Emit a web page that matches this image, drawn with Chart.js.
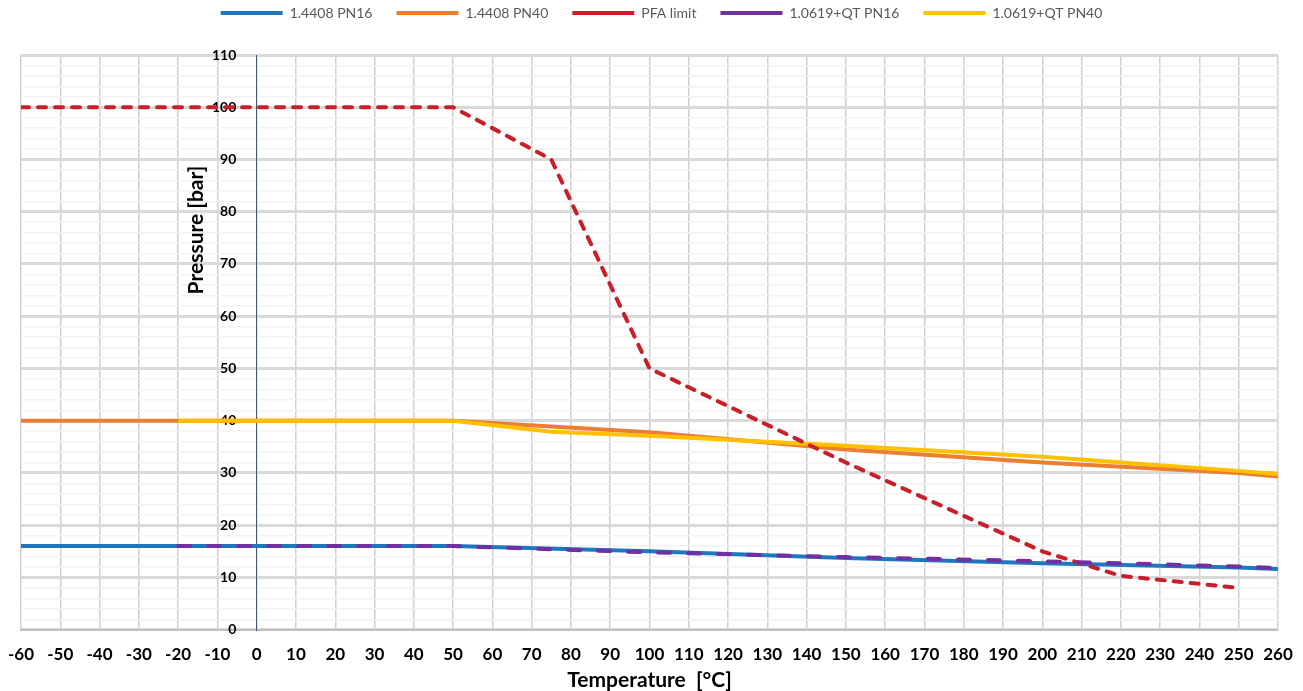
<!DOCTYPE html>
<html>
<head>
<meta charset="utf-8">
<script src="https://cdn.jsdelivr.net/npm/chart.js@4.4.1/dist/chart.umd.min.js"></script>
<style>
  body { margin: 0; background: #fff; }
  #wrap { width: 1303px; height: 691px; }
</style>
</head>
<body>
<div id="wrap"><canvas id="pressureChart" width="1303" height="691"></canvas></div>
<script>
// temperatures (°C) and pressures (bar)
const temp14408PN16 = [-60, 50, 100, 150, 200, 250, 260];
const pres14408PN16 = [16, 16, 15.0, 13.7, 12.7, 11.9, 11.6];

const temp14408PN40 = [-60, 50, 100, 150, 200, 250, 260];
const pres14408PN40 = [40, 40, 37.8, 34.5, 32.0, 30.0, 29.3];

const tempPFA = [-60, 50, 75, 100, 150, 200, 220, 250];
const presPFA = [100, 100, 90, 50, 32, 15, 10.3, 8.0];

const temp10619PN16 = [-20, 50, 100, 150, 200, 250, 260];
const pres10619PN16 = [16, 16, 14.8, 13.9, 13.1, 12.1, 11.8];

const temp10619PN40 = [-20, 50, 75, 100, 150, 200, 250, 260];
const pres10619PN40 = [40, 40, 37.9, 37.1, 35.2, 33.1, 30.4, 29.8];

const xMin = -60, xMax = 260, xStep = 10;
const yMin = 0, yMax = 110, yStep = 2;

function toPoints(xs, ys) {
    return xs.map((x, i) => ({ x: x, y: ys[i] }));
}

// extra room between legend and plot, legend nudged right a bit
const legendTweak = {
    id: 'legendTweak',
    beforeInit(chart) {
        const fit = chart.legend.fit;
        chart.legend.fit = function () {
            fit.call(this);
            this.height += 25;
        };
    },
    afterLayout(chart) {
        chart.legend.left += 12;
        chart.legend.right += 12;
    }
};

const axisTitles = {
    id: 'axisTitles',
    afterDraw(chart) {
        const ctx = chart.ctx;
        const area = chart.chartArea;
        ctx.save();
        ctx.font = 'bold 21px Lato';
        ctx.fillStyle = '#000';
        ctx.textAlign = 'center';
        ctx.textBaseline = 'middle';
        ctx.fillText('Temperature  [°C]', (area.left + area.right) / 2, area.bottom + 51);
        ctx.translate(chart.scales.x.getPixelForValue(0) - 60, chart.scales.y.getPixelForValue(76.5));
        ctx.rotate(-Math.PI / 2);
        ctx.fillText('Pressure [bar]', 0, 0);
        ctx.restore();
    }
};

new Chart(document.getElementById('pressureChart'), {
    type: 'line',
    data: {
        datasets: [
            {
                label: '1.4408 PN16',
                data: toPoints(temp14408PN16, pres14408PN16),
                borderColor: '#1f77c0',
                backgroundColor: '#1f77c0',
                borderWidth: 4,
                order: 5
            },
            {
                label: '1.4408 PN40',
                data: toPoints(temp14408PN40, pres14408PN40),
                borderColor: '#ed7d31',
                backgroundColor: '#ed7d31',
                borderWidth: 4,
                order: 4
            },
            {
                label: 'PFA limit',
                data: toPoints(tempPFA, presPFA),
                borderColor: '#c8202a',
                backgroundColor: '#c8202a',
                borderWidth: 4,
                borderDash: [8, 9],
                borderCapStyle: 'round',
                order: 2
            },
            {
                label: '1.0619+QT PN16',
                data: toPoints(temp10619PN16, pres10619PN16),
                borderColor: '#7030a0',
                backgroundColor: '#7030a0',
                borderWidth: 4,
                borderDash: [12, 18],
                borderCapStyle: 'round',
                order: 1
            },
            {
                label: '1.0619+QT PN40',
                data: toPoints(temp10619PN40, pres10619PN40),
                borderColor: '#ffc000',
                backgroundColor: '#ffc000',
                borderWidth: 4,
                order: 3
            }
        ]
    },
    options: {
        responsive: false,
        animation: false,
        devicePixelRatio: 1,
        layout: { padding: { left: 21, right: 25, top: -18, bottom: 12 } },
        elements: {
            point: { radius: 0 },
            line: { tension: 0, borderJoinStyle: 'round' }
        },
        plugins: {
            legend: {
                position: 'top',
                labels: {
                    usePointStyle: true,
                    pointStyle: 'line',
                    pointStyleWidth: 62,
                    boxHeight: 14,
                    padding: 24,
                    color: '#595959',
                    font: { family: 'Lato', size: 14 },
                    sort: (a, b) => a.datasetIndex - b.datasetIndex
                }
            },
            tooltip: { enabled: false }
        },
        scales: {
            x: {
                type: 'linear',
                min: xMin,
                max: xMax,
                ticks: {
                    stepSize: xStep,
                    autoSkip: false,
                    maxRotation: 0,
                    color: '#000',
                    padding: 0,
                    font: { family: 'Lato', weight: 'bold', size: 17, lineHeight: 2.9 }
                },
                grid: { color: '#d0d0d0', lineWidth: 1.5, drawTicks: false },
                border: { color: '#bfbfbf', width: 2 }
            },
            y: {
                type: 'linear',
                min: yMin,
                max: yMax,
                position: { x: 0 },
                ticks: {
                    stepSize: yStep,
                    autoSkip: false,
                    color: '#000',
                    padding: 15,
                    font: { family: 'Lato', weight: 'bold', size: 14 },
                    // trailing spaces keep the labels clear of the axis line
                    callback: v => (v % 10 === 0 ? v + '      ' : '')
                },
                grid: {
                    color: c => (c.tick && c.tick.value % 10 === 0 ? '#d9d9d9' : '#f2f2f2'),
                    lineWidth: c => (c.tick && c.tick.value % 10 === 0 ? 3 : 1.5),
                    drawTicks: false
                },
                border: { color: '#44546a', width: 1 }
            }
        }
    },
    plugins: [legendTweak, axisTitles]
});
</script>
</body>
</html>
